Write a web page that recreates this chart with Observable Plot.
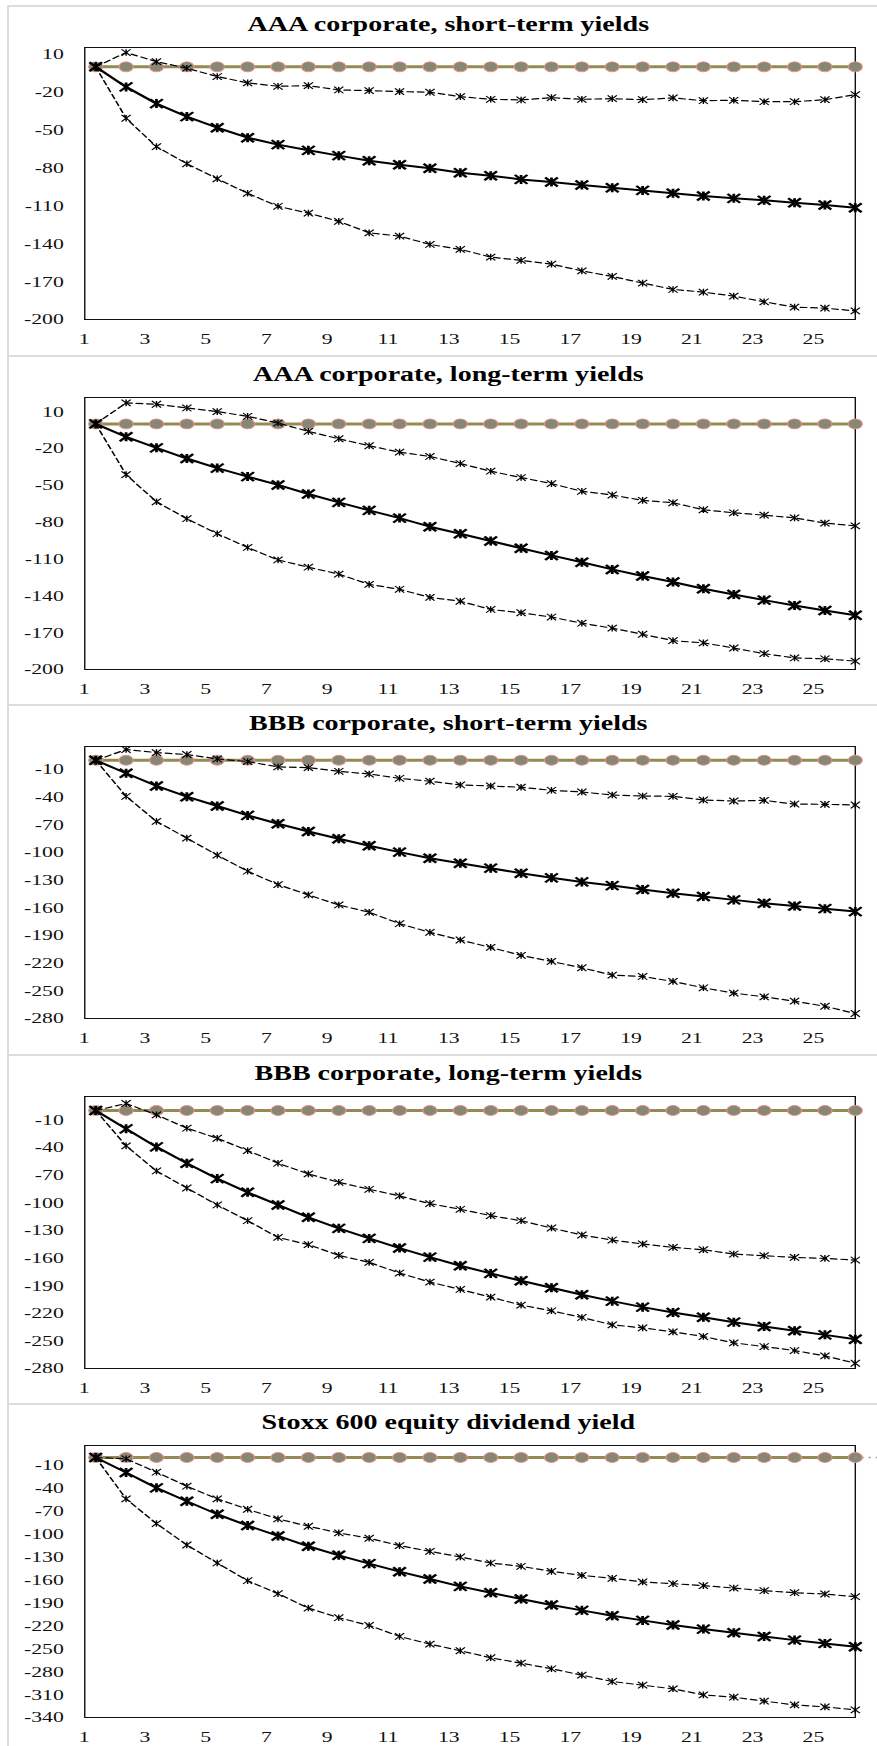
<!DOCTYPE html>
<html>
<head>
<meta charset="utf-8">
<script src="https://cdn.jsdelivr.net/npm/d3@7"></script>
<script src="https://cdn.jsdelivr.net/npm/@observablehq/plot@0.6"></script>
<style>
  body { margin: 0; background: #fff; width: 877px; height: 1746px; overflow: hidden; position: relative; }
  .rule { position: absolute; background: #dcdcdc; }
  .panel { position: absolute; left: 0; width: 626px; height: 350px; transform: scaleX(1.401); transform-origin: 0 0; }
  .title { position: absolute; left: 0; width: 640px; top: 8px; height: 28px; line-height: 28px; text-align: center;
           font: bold 20px "Liberation Serif", serif; color: #000; white-space: nowrap; }
  .panel svg { position: absolute; left: 0; top: 30px; overflow: visible; }
</style>
</head>
<body>
<script>
// Horizon (periods ahead) shared by every panel
const periods = [1, 2, 3, 4, 5, 6, 7, 8, 9, 10, 11, 12, 13, 14, 15, 16, 17, 18, 19, 20, 21, 22, 23, 24, 25, 26];
const xTickLabels = [1, 3, 5, 7, 9, 11, 13, 15, 17, 19, 21, 23, 25];

// No-change baseline
const baseline = [0, 0, 0, 0, 0, 0, 0, 0, 0, 0, 0, 0, 0, 0, 0, 0, 0, 0, 0, 0, 0, 0, 0, 0, 0, 0];

// AAA corporate, short-term yields
const aaaShortMedian = [0, -15.9, -29.1, -39.4, -48.2, -56.1, -61.6, -66.1, -70.3, -74.3, -77.5, -80.3, -83.8, -86.2, -89.1, -91.2, -93.6, -95.7, -97.8, -100.1, -102.3, -104.1, -105.7, -107.6, -109.4, -111.6];
const aaaShortUpper = [0, 11.3, 4.1, -1.1, -7.7, -12.7, -15.4, -14.9, -18.3, -18.8, -19.6, -20.1, -23.6, -25.7, -26.2, -24.4, -25.7, -25.2, -26.0, -24.6, -26.8, -26.5, -27.6, -27.6, -26.0, -22.0];
const aaaShortLower = [0, -40.7, -63.2, -76.7, -88.6, -100.1, -110.4, -115.8, -122.3, -131.4, -134.0, -140.6, -144.5, -150.6, -153.2, -156.2, -161.5, -165.9, -171.2, -176.2, -178.3, -181.5, -186.0, -190.2, -191.0, -193.2];

// AAA corporate, long-term yields
const aaaLongMedian = [0, -10.5, -19.5, -28.2, -36.0, -42.9, -49.7, -57.1, -63.9, -70.4, -76.7, -83.7, -89.5, -95.3, -101.3, -107.1, -112.7, -118.5, -123.9, -128.8, -134.3, -138.9, -143.5, -147.9, -152.0, -155.8];
const aaaLongUpper = [0, 17.1, 16.0, 13.0, 10.0, 6.2, 0.7, -6.1, -12.1, -17.8, -23.0, -26.5, -32.3, -38.5, -43.7, -48.6, -54.9, -57.9, -62.3, -64.2, -69.9, -72.4, -74.3, -76.5, -80.8, -83.0];
const aaaLongLower = [0, -41.3, -63.4, -77.2, -89.4, -100.6, -110.8, -116.7, -122.3, -130.7, -134.7, -141.3, -144.4, -151.1, -153.8, -157.3, -162.3, -166.3, -171.3, -176.5, -178.3, -182.5, -187.1, -190.6, -191.3, -193.2];

// BBB corporate, short-term yields
const bbbShortMedian = [0, -14.1, -27.9, -39.5, -49.6, -59.8, -68.8, -77.2, -85.1, -92.7, -99.6, -106.2, -111.6, -117.0, -122.5, -127.5, -131.9, -135.9, -140.2, -144.2, -147.8, -151.4, -155.1, -158.0, -160.9, -164.1];
const bbbShortUpper = [0, 11.6, 8.3, 6.2, 1.4, -1.4, -7.2, -8.0, -12.0, -14.9, -19.6, -22.8, -26.8, -27.9, -29.3, -32.6, -34.4, -37.7, -38.8, -39.1, -43.1, -44.2, -43.5, -47.5, -47.8, -48.5];
const bbbShortLower = [0, -39.1, -66.3, -84.4, -102.9, -120.3, -134.8, -146.0, -156.9, -164.8, -177.2, -186.6, -194.9, -202.9, -211.6, -218.1, -225.0, -233.0, -234.4, -239.8, -246.7, -252.5, -256.5, -261.2, -266.7, -274.6];

// BBB corporate, long-term yields
const bbbLongMedian = [0, -19.9, -39.5, -57.2, -73.9, -88.8, -102.5, -115.9, -127.9, -138.8, -149.3, -159.1, -168.5, -176.8, -184.8, -192.4, -200.0, -206.9, -213.4, -219.2, -224.3, -229.7, -234.4, -239.1, -243.5, -248.2];
const bbbLongUpper = [0, 7.6, -4.7, -19.2, -30.1, -43.5, -57.2, -68.8, -77.9, -85.5, -92.7, -101.1, -107.2, -114.1, -119.6, -127.5, -135.1, -140.6, -144.9, -148.5, -151.1, -155.8, -157.6, -159.4, -160.5, -162.3];
const bbbLongLower = [0, -38.4, -65.6, -84.1, -102.5, -119.6, -137.7, -145.6, -157.2, -164.8, -176.4, -186.2, -194.2, -202.5, -211.2, -217.4, -224.6, -232.6, -235.9, -240.2, -245.3, -252.2, -256.2, -260.5, -266.3, -274.3];

// Stoxx 600 equity dividend yield
const stoxxMedian = [0, -19.6, -39.7, -57.2, -74.2, -89.0, -102.6, -116.1, -127.9, -138.8, -149.3, -158.9, -168.5, -176.8, -185.1, -192.9, -199.9, -206.9, -213.0, -219.1, -224.4, -229.2, -234.0, -238.8, -243.1, -247.5];
const stoxxUpper = [0, -1.7, -19.2, -37.5, -54.1, -67.7, -80.3, -89.9, -98.6, -105.6, -115.2, -122.7, -130.1, -138.0, -142.3, -148.9, -154.1, -158.0, -162.8, -165.0, -167.6, -170.7, -174.2, -176.8, -178.5, -182.0];
const stoxxLower = [0, -54.1, -86.4, -114.4, -137.9, -161.1, -178.1, -196.9, -209.5, -219.6, -234.0, -244.0, -252.7, -261.9, -268.9, -276.3, -284.6, -292.9, -297.7, -302.5, -310.4, -313.4, -318.6, -323.5, -326.1, -330.0];

// Y-axis tick labels
const yTicksTo200 = [10, -20, -50, -80, -110, -140, -170, -200];
const yTicksTo280 = [-10, -40, -70, -100, -130, -160, -190, -220, -250, -280];
const yTicksTo340 = [-10, -40, -70, -100, -130, -160, -190, -220, -250, -280, -310, -340];

const panels = [
  {title: "AAA corporate, short-term yields", median: aaaShortMedian, upper: aaaShortUpper, lower: aaaShortLower, ticks: yTicksTo200, yDomain: [-200, 15.3]},
  {title: "AAA corporate, long-term yields", median: aaaLongMedian, upper: aaaLongUpper, lower: aaaLongLower, ticks: yTicksTo200, yDomain: [-200, 21.5]},
  {title: "BBB corporate, short-term yields", median: bbbShortMedian, upper: bbbShortUpper, lower: bbbShortLower, ticks: yTicksTo280, yDomain: [-280, 14.9]},
  {title: "BBB corporate, long-term yields", median: bbbLongMedian, upper: bbbLongUpper, lower: bbbLongLower, ticks: yTicksTo280, yDomain: [-280, 15.2]},
  {title: "Stoxx 600 equity dividend yield", median: stoxxMedian, upper: stoxxUpper, lower: stoxxLower, ticks: yTicksTo340, yDomain: [-340, 15.7], tail: true}
];

// Style
const olive = "#948a54";
const markerFill = "#878774";
const markerEdge = "#e6928c";
const labelShift = 0.38;      // category labels sit slightly left of their points
const panelPitch = 349.5;
const panelTop = 5;

// Star marker: an X crossed by a vertical stroke
const star = {
  draw(context, size) {
    const r = Math.sqrt(size / Math.PI);
    context.moveTo(-r, -r); context.lineTo(r, r);
    context.moveTo(-r, r); context.lineTo(r, -r);
    context.moveTo(0, -r); context.lineTo(0, r);
  }
};

function addRule(left, top, width, height) {
  const d = document.createElement("div");
  d.className = "rule";
  Object.assign(d.style, {left: left + "px", top: top + "px", width: width + "px", height: height + "px"});
  document.body.appendChild(d);
}

addRule(7, panelTop, 2, 1746 - panelTop);

panels.forEach((p, i) => {
  const y0 = panelTop + i * panelPitch;
  addRule(7, y0, 870, 2);

  const rows = periods.map((t, j) => ({
    period: t, base: baseline[j], median: p.median[j], upper: p.upper[j], lower: p.lower[j]
  }));
  const last = periods[periods.length - 1];

  const marks = [
    Plot.axisY(p.ticks, {tickSize: 0, tickPadding: 15, fontSize: 15.5, label: null, tickFormat: (d) => String(d)}),
    Plot.axisX(xTickLabels.map((t) => t - labelShift), {
      tickSize: 0, tickPadding: 13, fontSize: 15.5, label: null,
      tickFormat: (d) => String(Math.round(d + labelShift))
    }),
    Plot.frame({stroke: "#111", strokeWidth: 1}),
    Plot.line(rows, {x: "period", y: "base", stroke: olive, strokeWidth: 3}),
    Plot.dot(rows, {x: "period", y: "base", r: 5, fill: markerFill, stroke: markerEdge, strokeWidth: 0.8}),
    Plot.line(rows, {x: "period", y: "upper", stroke: "#000", strokeWidth: 1.2, strokeDasharray: "4.5,3"}),
    Plot.line(rows, {x: "period", y: "lower", stroke: "#000", strokeWidth: 1.2, strokeDasharray: "4.5,3"}),
    Plot.dot(rows, {x: "period", y: "upper", symbol: star, r: 3.3, fill: "none", stroke: "#000", strokeWidth: 1}),
    Plot.dot(rows, {x: "period", y: "lower", symbol: star, r: 3.3, fill: "none", stroke: "#000", strokeWidth: 1}),
    Plot.line(rows, {x: "period", y: "median", stroke: "#000", strokeWidth: 2}),
    Plot.dot(rows, {x: "period", y: "median", symbol: star, r: 4.5, fill: "none", stroke: "#000", strokeWidth: 2})
  ];
  if (p.tail) {
    marks.push(Plot.ruleY([0], {x1: last, x2: last + 1, stroke: "#9a9a9a", strokeWidth: 1.5, strokeDasharray: "1.5,3.5", clip: false}));
  }

  const chart = Plot.plot({
    width: 626,
    height: 320,
    marginTop: 12,
    marginBottom: 36,
    marginLeft: 60,
    marginRight: 16,
    x: {domain: [0.64, last], label: null},
    y: {domain: p.yDomain, label: null},
    style: {fontFamily: "'Liberation Serif', serif", fontSize: "15.5px", color: "#111", background: "transparent", overflow: "visible"},
    marks
  });

  const panel = document.createElement("div");
  panel.className = "panel";
  panel.style.top = y0 + "px";
  const title = document.createElement("div");
  title.className = "title";
  title.textContent = p.title;
  panel.appendChild(title);
  panel.appendChild(chart);
  document.body.appendChild(panel);
});
</script>
</body>
</html>
